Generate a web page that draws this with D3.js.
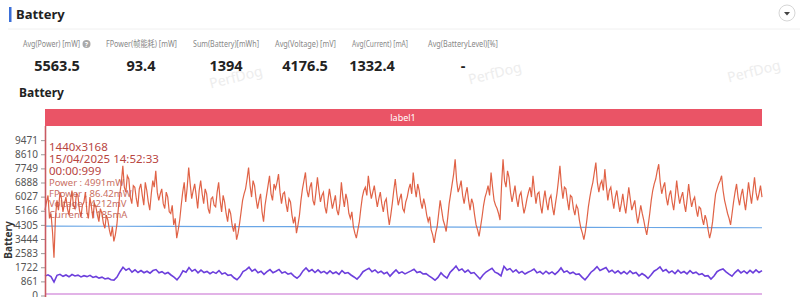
<!DOCTYPE html>
<html lang="en">
<head>
  <meta charset="UTF-8">
  <title>Battery</title>
  <script src="https://d3js.org/d3.v7.min.js"></script>
  <style>
    body { margin: 0; background: #fff; }
    text { font-family: "Noto Sans", "Noto Sans CJK SC", sans-serif; }
  </style>
</head>
<body>
  <svg id="svg" width="800" height="297"></svg>
  <script>
    // summary cards
    var statLabels = ['Avg(Power) [mW]', 'FPower(帧能耗) [mW]', 'Sum(Battery)[mWh]', 'Avg(Voltage) [mV]', 'Avg(Current) [mA]', 'Avg(BatteryLevel)[%]']
    var statValues = ['5563.5', '93.4', '1394', '4176.5', '1332.4', '-']

    // y axis ticks
    var yTicks = [0, 861, 1722, 2583, 3444, 4305, 5166, 6027, 6888, 7749, 8610, 9471]

    // power (mW), one value per sample
    var power = [
      5200, 5700, 6100, 4700, 5000, 3900, 2300, 4800, 5800, 5200, 6300, 5900, 5100, 5600, 6000, 5300, 4900, 5700, 6400, 5500,
      5300, 6200, 6100, 5200, 4800, 5500, 5700, 6300, 5100, 4700, 6000, 5400, 4700, 5600, 5400, 4900, 4500, 5300, 5000, 4400,
      4100, 4900, 4600, 4000, 3600, 4200, 3300, 3700, 4300, 5300, 6200, 6900, 7900, 6600, 6300, 7300, 7100, 6000, 5600, 6700,
      6600, 5900, 5400, 6500, 6800, 6100, 5500, 6900, 6400, 5700, 5200, 6200, 7000, 6600, 7600, 6300, 5800, 6200, 6500, 5600,
      5300, 6300, 6000, 5100, 5000, 5500, 4300, 4700, 3500, 4000, 4600, 5500, 6300, 6900, 5700, 6600, 7800, 6800, 5900, 6400,
      6800, 6100, 5300, 6400, 7000, 6200, 5600, 6500, 6200, 5300, 5000, 5900, 6000, 5500, 5400, 6300, 6900, 5800, 5100, 6100,
      5700, 5000, 4500, 5300, 5000, 4300, 3900, 4400, 3400, 3800, 4400, 5100, 5800, 6200, 6500, 7100, 7800, 6700, 6000, 7000,
      6700, 5900, 5300, 5800, 6200, 5100, 4500, 5500, 6100, 6700, 7300, 6200, 5800, 6800, 6500, 6900, 7400, 6300, 5600, 6200,
      6300, 5600, 5100, 5900, 5700, 4900, 4400, 4800, 3800, 4300, 4900, 5800, 6500, 7000, 7500, 6400, 6000, 6600, 6900, 5800,
      5500, 6300, 7200, 6400, 5700, 6100, 6300, 5400, 5000, 5800, 6500, 5900, 5300, 5700, 6100, 5200, 4900, 5600, 6900, 6000,
      5400, 6200, 5800, 5000, 4700, 5100, 4200, 3800, 3500, 4000, 4500, 5300, 6000, 6400, 6600, 6100, 7300, 6500, 5900, 6300,
      6700, 6000, 5400, 5900, 6300, 5600, 5100, 5700, 5900, 5000, 4300, 4900, 5600, 6400, 7100, 6200, 5500, 5900, 6200, 5300,
      5100, 5700, 6000, 6500, 6800, 6200, 7500, 6600, 6000, 6800, 6400, 5700, 5300, 5900, 5500, 4900, 4500, 4800, 4000, 3700,
      3200, 3800, 4200, 5000, 5800, 5200, 4600, 4300, 3900, 4700, 5600, 6200, 6800, 7400, 8300, 7000, 6300, 6600, 7000, 6100,
      5600, 6200, 6600, 5800, 5200, 5900, 5600, 4900, 4300, 4000, 3600, 4200, 4800, 5500, 6000, 6300, 6700, 6100, 7500, 6600,
      5800, 5500, 5300, 5000, 4600, 6700, 8300, 7000, 6600, 7600, 7200, 6300, 5700, 6200, 6700, 5900, 5400, 6100, 6300, 5600,
      5000, 5400, 5900, 6300, 6600, 6000, 7300, 6400, 5600, 6200, 6300, 5500, 5000, 5800, 6400, 5700, 5200, 5900, 6100, 5400,
      4900, 5600, 6200, 7000, 7900, 6700, 5900, 6600, 6500, 5800, 5200, 6100, 6000, 5300, 4900, 5500, 5300, 4600, 4100, 3800,
      3400, 3900, 4600, 5400, 6000, 6500, 6900, 7500, 8100, 6900, 6300, 6800, 7000, 6400, 7700, 6700, 5800, 6400, 6600, 5900,
      5300, 6000, 6400, 5700, 5100, 5600, 6200, 5500, 5000, 5800, 6600, 5900, 5200, 5500, 5800, 5000, 4400, 4900, 5500, 5000,
      4600, 4100, 3700, 4300, 5000, 5800, 6400, 6800, 7100, 7600, 8000, 6900, 6200, 6600, 6900, 6000, 5500, 6100, 6400, 5700,
      5200, 6000, 7000, 6200, 5600, 6000, 6300, 5600, 5100, 5900, 6800, 6000, 5400, 5800, 6000, 5300, 4800, 5400, 5300, 4700,
      4300, 4900, 4600, 4000, 3500, 3900, 4500, 5400, 6200, 6500, 6800, 7000, 7300, 6400, 5800, 5400, 5000, 4700, 4300, 5000,
      5700, 6300, 6800, 6000, 5500, 6100, 6500, 5800, 5200, 6000, 6900, 6200, 5600, 6400, 7200, 6300, 5800, 6200, 6700, 6000]

    // current (mA)
    var current = [1180, 1260, 1150, 820, 1230, 1290, 1170, 1250, 1140, 1280, 1190, 1240, 1130, 1210, 1150, 1230, 1100, 1160, 1060, 1120,
      1010, 1060, 960, 940, 1120, 1450, 1720, 1540, 1650, 1420, 1560, 1400, 1520, 1390, 1480, 1360, 1520, 1580, 1380, 1450,
      1320, 1400, 1250, 1120, 960, 1180, 1500, 1420, 1700, 1480, 1590, 1380, 1550, 1400, 1470, 1330, 1440, 1350, 1520, 1310,
      1380, 1230, 1260, 1080, 960, 1150, 1460, 1560, 1720, 1480, 1600, 1390, 1480, 1290, 1450, 1580, 1390, 1480, 1590, 1370,
      1440, 1300, 1360, 1180, 1050, 1220, 1500, 1680, 1470, 1580, 1400, 1560, 1390, 1470, 1330, 1500, 1340, 1430, 1290, 1520,
      1350, 1400, 1250, 1130, 1000, 1190, 1450, 1560, 1660, 1450, 1560, 1380, 1480, 1330, 1420, 1180, 1380, 1560, 1360, 1440,
      1320, 1410, 1500, 1600, 1400, 1450, 1310, 1330, 1200, 1080, 930, 1100, 1380, 1190, 1060, 1400, 1590, 1800, 1520, 1620,
      1420, 1550, 1350, 1400, 1200, 1010, 1250, 1430, 1550, 1660, 1420, 1340, 1200, 1780, 1560, 1640, 1430, 1560, 1370, 1470,
      1310, 1420, 1500, 1610, 1380, 1460, 1310, 1480, 1330, 1440, 1290, 1450, 1680, 1420, 1500, 1340, 1420, 1280, 1320, 1120,
      960, 1180, 1420, 1560, 1760, 1520, 1610, 1700, 1440, 1540, 1370, 1500, 1330, 1460, 1310, 1500, 1340, 1400, 1200, 1340,
      1220, 1040, 1250, 1480, 1590, 1740, 1480, 1580, 1390, 1500, 1340, 1540, 1370, 1460, 1320, 1510, 1350, 1420, 1270, 1330,
      1180, 1210, 1000, 1190, 1450, 1560, 1620, 1440, 1300, 1180, 1400, 1560, 1380, 1500, 1350, 1530, 1380, 1560, 1400, 1520]

    // voltage (mV) and frame power (mW), sampled sparser
    var sparseIdx = [0, 20, 40, 60, 80, 100, 120, 140, 160, 180, 200, 220, 239]
    var voltage = [4232, 4222, 4212, 4203, 4195, 4187, 4179, 4170, 4162, 4154, 4146, 4138, 4131]
    var fpower = [86, 95, 90, 98, 92, 96, 89, 94, 97, 91, 95, 93, 96]

    var tipLines = ['1440x3168', '15/04/2025 14:52:33', '00:00:999']
    var tipValues = ['Power    : 4991mW', 'FPower : 86.42mW', 'Voltage : 4212mV', 'Current : 1185mA']

    var svg = d3.select('#svg')

    // header
    svg.append('rect').attr('x', 9).attr('y', 7).attr('width', 2.5).attr('height', 15).style('fill', '#3b6fd8')
    svg.append('text').attr('x', 16).attr('y', 19).text('Battery')
      .style('font-size', '13px').style('font-weight', 'bold').style('fill', '#222')
    svg.append('line').attr('x1', 8).attr('x2', 800).attr('y1', 29).attr('y2', 29).style('stroke', '#f0f0f0')
    svg.append('circle').attr('cx', 787).attr('cy', 13).attr('r', 8).style('fill', '#fff').style('stroke', '#d6d6d6')
    svg.append('path').attr('d', 'M784,12 L790,12 L787,15.5 Z').style('fill', '#444')

    // watermarks
    var marks = [[237, 82], [496, 78], [755, 76]]
    svg.selectAll('.wm').data(marks).enter().append('text')
      .attr('transform', d => 'translate(' + d[0] + ',' + d[1] + ') rotate(-14)')
      .attr('text-anchor', 'middle').text('PerfDog')
      .style('font-size', '14px').style('fill', '#ededed')

    // stats
    var statX = [23, 106, 193, 275, 352, 428]
    var statW = [57, 71, 66, 61, 56, 70]
    var valueC = [57, 141, 226, 305, 372, 463]
    var stats = svg.selectAll('.stat').data(statLabels).enter().append('g')
    stats.append('text').attr('x', (d, i) => statX[i]).attr('y', 47).text(d => d)
      .attr('textLength', (d, i) => statW[i]).attr('lengthAdjust', 'spacingAndGlyphs')
      .style('font-size', '9px').style('fill', '#888')
    stats.append('text').attr('x', (d, i) => valueC[i]).attr('y', 71)
      .attr('text-anchor', 'middle').text((d, i) => statValues[i])
      .style('font-size', '14.5px').style('font-weight', 'bold').style('fill', '#222')
    svg.append('circle').attr('cx', 86.5).attr('cy', 44).attr('r', 4).style('fill', '#a8a8a8')
    svg.append('text').attr('x', 86.5).attr('y', 46.5).attr('text-anchor', 'middle').text('?')
      .style('font-size', '7px').style('fill', '#fff').style('font-weight', 'bold')

    svg.append('text').attr('x', 19).attr('y', 97).text('Battery')
      .style('font-size', '12px').style('font-weight', 'bold').style('fill', '#222')

    // scales
    var x = d3.scaleLinear().domain([0, 1]).range([45, 762])
    var y = d3.scaleLinear().domain([0, 10332]).range([295.5, 126])

    // label band
    svg.append('rect').attr('x', 45).attr('y', 109).attr('width', 717).attr('height', 17).style('fill', '#ea5466')
    svg.append('text').attr('x', 403).attr('y', 121).attr('text-anchor', 'middle').text('label1')
      .style('font-size', '9px').style('fill', '#fff')

    // y axis
    var yAxis = d3.axisLeft(y).tickValues(yTicks).tickFormat(d3.format('d')).tickSize(4).tickPadding(3)
    var ga = svg.append('g').attr('transform', 'translate(45,0)').call(yAxis)
    ga.select('.domain').remove()
    ga.selectAll('line').style('stroke', '#999')
    ga.selectAll('text').style('font-size', '10px').style('fill', '#555')
      .style('font-family', '"Noto Sans", sans-serif')
    svg.append('text').attr('transform', 'translate(12,240) rotate(-90)').attr('text-anchor', 'middle')
      .text('Battery').style('font-size', '10px').style('font-weight', 'bold').style('fill', '#333')

    // series share one time axis (0..1 of the session)
    var line = d3.line().x((d, i, a) => x(i / (a.length - 1))).y(d => y(d))
    var sparse = d3.line().x(d => x(d[0] / 239)).y(d => y(d[1]))

    svg.append('path').datum(sparseIdx.map((t, i) => [t, fpower[i]])).attr('d', sparse)
      .style('fill', 'none').style('stroke', '#d99be0').style('stroke-width', 1.5)
    svg.append('path').datum(sparseIdx.map((t, i) => [t, voltage[i]])).attr('d', sparse)
      .style('fill', 'none').style('stroke', '#6aa6e6').style('stroke-width', 1.2)
    svg.append('path').datum(current).attr('d', line)
      .style('fill', 'none').style('stroke', '#6c3fdc').style('stroke-width', 1.6)
    svg.append('path').datum(power).attr('d', line)
      .style('fill', 'none').style('stroke', '#de5a3c').style('stroke-width', 1.2).style('opacity', 0.95)

    // cursor
    svg.append('line').attr('x1', 45.5).attr('x2', 45.5).attr('y1', 126).attr('y2', 297)
      .style('stroke', '#c95a62').style('stroke-width', 1.6)

    // tooltip
    svg.selectAll('.tip').data(tipLines).enter().append('text')
      .attr('x', 49).attr('y', (d, i) => 151 + i * 12).text(d => d)
      .style('font-size', '11.5px').style('fill', '#b8453f')
    svg.selectAll('.tipv').data(tipValues).enter().append('text')
      .attr('x', 49).attr('y', (d, i) => 186 + i * 10.5).text(d => d)
      .style('font-size', '9.5px').style('fill', '#c05548').style('opacity', 0.85)
  </script>
</body>
</html>
